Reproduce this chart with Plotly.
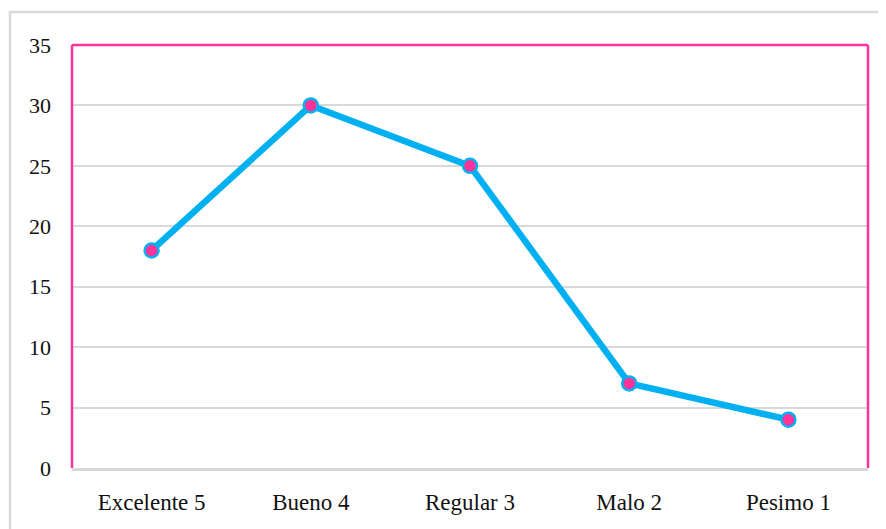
import plotly.graph_objects as go

categories = ["Excelente 5", "Bueno 4", "Regular 3", "Malo 2", "Pesimo 1"]
values = [18, 30, 25, 7, 4]
y_ticks = [0, 5, 10, 15, 20, 25, 30, 35]

W, H = 886, 529
OFF = 8  # page body margin
L, R, T, B = 72, 868, 45, 468
pw, ph = R - L, B - T

fig = go.Figure()
fig.add_trace(go.Scatter(
    x=categories, y=values, mode="lines+markers",
    line=dict(color="#00b0f0", width=6.5),
    marker=dict(size=14, color="#ff3399", line=dict(color="#00b0f0", width=2.5)),
    hoverinfo="skip", showlegend=False,
))

PINK = "#ff3399"
shapes = [
    dict(type="rect", xref="paper", yref="paper",
         x0=(10 - L) / pw, x1=(W + 40 - L) / pw,
         y0=(B - (H + 40)) / ph, y1=(B - 12) / ph,
         line=dict(color="#d9d9d9", width=2.5), layer="below"),
    dict(type="line", xref="paper", yref="paper", x0=0, x1=1, y0=1, y1=1,
         line=dict(color=PINK, width=2.5)),
    dict(type="line", xref="paper", yref="paper", x0=0, x1=0, y0=0, y1=1,
         line=dict(color=PINK, width=2.5)),
    dict(type="line", xref="paper", yref="paper", x0=1, x1=1, y0=0, y1=1,
         line=dict(color=PINK, width=2.5)),
]

fig.update_layout(
    width=W, height=H,
    margin=dict(l=L - OFF, r=W - (R - OFF), t=T - OFF, b=H - (B - OFF)),
    paper_bgcolor="white", plot_bgcolor="white",
    font=dict(family="Liberation Serif, Times New Roman, serif", size=22, color="#111111"),
    shapes=shapes,
    xaxis=dict(range=[-0.5, 4.5], showgrid=False, zeroline=False,
               showline=True, linecolor="#d9d9d9", linewidth=2.5,
               ticks="", ticklabelstandoff=12,
               tickfont=dict(size=23)),
    yaxis=dict(range=[0, 35], tickvals=y_ticks, showgrid=True,
               gridcolor="#d9d9d9", gridwidth=2, zeroline=False,
               showline=False, ticks="", ticklabelstandoff=20,
               tickfont=dict(size=22)),
)

fig.write_html("out.html")
